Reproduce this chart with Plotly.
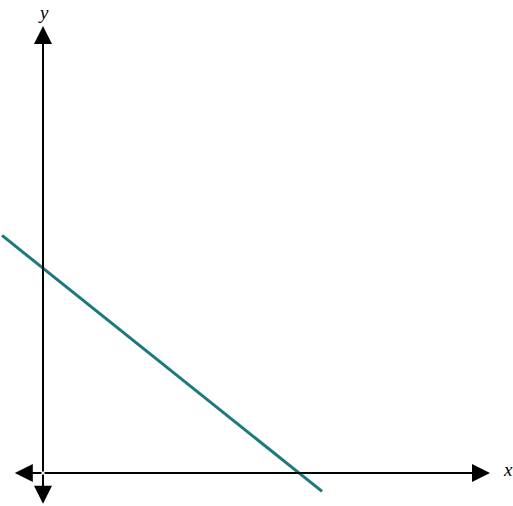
import plotly.graph_objects as go

# Line y = 4 - 0.8x, drawn a bit past both intercepts
line_x = [-0.8, 5.45]
line_y = [4.64, -0.36]

line_color = "#1b7a7e"
axis_color = "black"

# axis extents (arrow tips)
x_min, x_max = -0.55, 8.73
y_min, y_max = -0.6, 8.73

# pixels per unit, origin sits at (43, 473) px
ppu = 51.2

fig = go.Figure()

fig.add_trace(
    go.Scatter(
        x=line_x,
        y=line_y,
        mode="lines",
        line=dict(color=line_color, width=3),
        hoverinfo="skip",
        showlegend=False,
    )
)

arrows = [(x_max, 0), (x_min, 0), (0, y_max), (0, y_min)]
for ex, ey in arrows:
    fig.add_annotation(
        x=ex,
        y=ey,
        ax=0,
        ay=0,
        xref="x",
        yref="y",
        axref="x",
        ayref="y",
        text="",
        showarrow=True,
        arrowhead=2,
        arrowsize=1.8,
        arrowwidth=2,
        arrowcolor=axis_color,
    )

label_font = dict(family="Liberation Serif", size=19, color="black")
fig.add_annotation(x=9.08, y=0.06, text="<i>x</i>", showarrow=False, font=label_font)
fig.add_annotation(x=0, y=9.0, text="<i>y</i>", showarrow=False, font=label_font)

fig.update_xaxes(visible=False, range=[-43 / ppu, 470 / ppu])
fig.update_yaxes(visible=False, range=[-33 / ppu, 473 / ppu])

fig.update_layout(
    width=513,
    height=506,
    margin=dict(l=0, r=0, t=0, b=0),
    plot_bgcolor="white",
    paper_bgcolor="white",
    template="simple_white",
)

# drop the page's default body margin so the figure fills the window
fig.write_html(
    "out.html",
    config={"displayModeBar": False},
    post_script="document.body.style.margin='0';",
)
